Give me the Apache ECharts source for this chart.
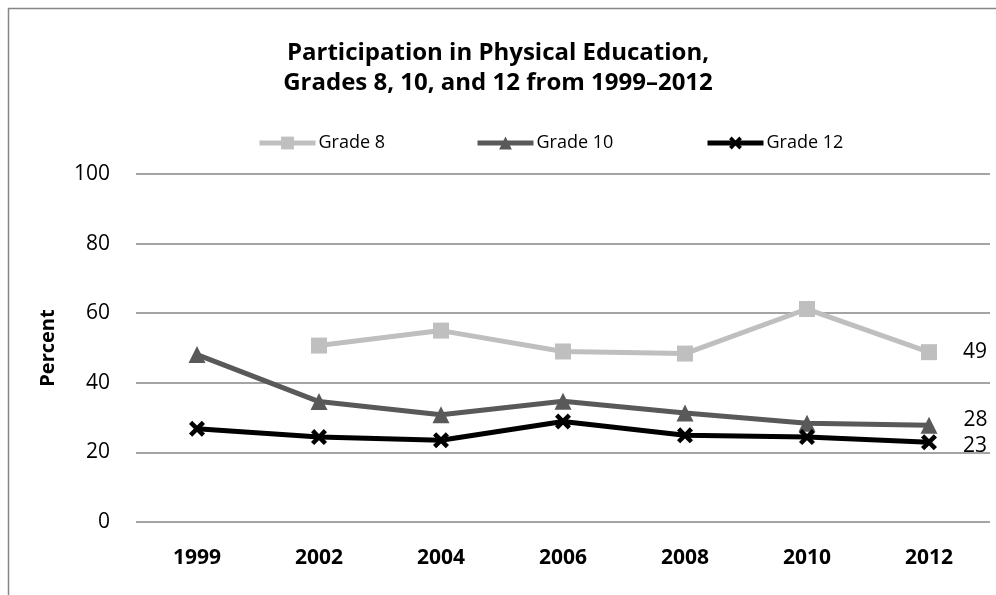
<!DOCTYPE html>
<html>
<head>
<meta charset="utf-8">
<script src="https://cdn.jsdelivr.net/npm/echarts@6/dist/echarts.min.js"></script>
<style>
html,body{margin:0;padding:0;background:#fff;}
#chart{width:996px;height:595px;}
</style>
</head>
<body>
<div id="chart"></div>
<script>
const years = ['1999', '2002', '2004', '2006', '2008', '2010', '2012'];
const grade8 = [null, 50.7, 55.0, 49.0, 48.4, 61.2, 48.8];
const grade10 = [48.1, 34.6, 30.8, 34.7, 31.3, 28.4, 27.8];
const grade12 = [26.8, 24.4, 23.5, 28.9, 24.9, 24.4, 22.9];
const yTicks = [0, 20, 40, 60, 80, 100];

const FONT = 'Open Sans';
const crossPath = 'path://M0,2L2,0L5,3L8,0L10,2L7,5L10,8L8,10L5,7L2,10L0,8L3,5Z';

function endLabel(offsetY) {
  return {
    show: true,
    position: 'right',
    distance: 26,
    offset: [0, offsetY],
    color: '#000',
    fontFamily: FONT,
    fontSize: 21,
    formatter: function (p) {
      return p.dataIndex === years.length - 1 ? String(Math.round(p.value)) : '';
    }
  };
}

const chart = echarts.init(document.getElementById('chart'));
const legendBase = {
  top: 129,
  itemWidth: 56,
  itemHeight: 16,
  itemGap: 4,
  lineStyle: { width: 5 },
  textStyle: { fontFamily: FONT, fontSize: 18, color: '#000', padding: [0, 0, 0, -2] }
};
chart.setOption({
  animation: false,
  backgroundColor: '#fff',
  graphic: [{
    type: 'rect',
    shape: { x: 8.5, y: 8.5, width: 1000, height: 600 },
    style: { fill: 'none', stroke: '#868686', lineWidth: 1.5 },
    silent: true
  }],
  title: {
    text: 'Participation in Physical Education,\nGrades 8, 10, and 12 from 1999\u20132012',
    left: 'center',
    top: 33,
    textStyle: { fontFamily: FONT, fontWeight: 'bold', fontSize: 24, lineHeight: 30, color: '#000' }
  },
  legend: [
    Object.assign({}, legendBase, { left: 252, data: ['Grade 8'] }),
    Object.assign({}, legendBase, { left: 470, data: ['Grade 10'] }),
    Object.assign({}, legendBase, { left: 700, data: ['Grade 12'] })
  ],
  grid: { left: 136, right: 6, top: 174, bottom: 73, containLabel: false },
  xAxis: {
    type: 'category',
    data: years,
    boundaryGap: true,
    axisLine: { show: false },
    axisTick: { show: false },
    axisLabel: { fontFamily: FONT, fontWeight: 'bold', fontSize: 21, color: '#000', margin: 26 }
  },
  yAxis: {
    type: 'value',
    min: 0,
    max: 100,
    interval: 20,
    name: 'Percent',
    nameLocation: 'middle',
    nameGap: 78,
    nameRotate: 90,
    nameTextStyle: { fontFamily: FONT, fontWeight: 'bold', fontSize: 20, color: '#000' },
    axisLine: { show: false },
    axisTick: { show: false },
    axisLabel: {
      fontFamily: FONT, fontSize: 21, color: '#000', margin: 26,
      formatter: function (v) { return yTicks.indexOf(v) >= 0 ? String(v) : ''; }
    },
    splitLine: { lineStyle: { color: '#868686', width: 1.5 } }
  },
  series: [
    {
      name: 'Grade 8', type: 'line', data: grade8,
      symbol: 'rect', symbolSize: 16,
      lineStyle: { color: '#bfbfbf', width: 5 },
      itemStyle: { color: '#bfbfbf' },
      label: endLabel(0),
      z: 3
    },
    {
      name: 'Grade 10', type: 'line', data: grade10,
      symbol: 'triangle', symbolSize: 17,
      lineStyle: { color: '#595959', width: 5 },
      itemStyle: { color: '#595959' },
      label: endLabel(-5),
      z: 4
    },
    {
      name: 'Grade 12', type: 'line', data: grade12,
      symbol: crossPath, symbolSize: 16,
      lineStyle: { color: '#000', width: 5 },
      itemStyle: { color: '#000' },
      label: endLabel(4),
      z: 5
    }
  ]
});
</script>
</body>
</html>
